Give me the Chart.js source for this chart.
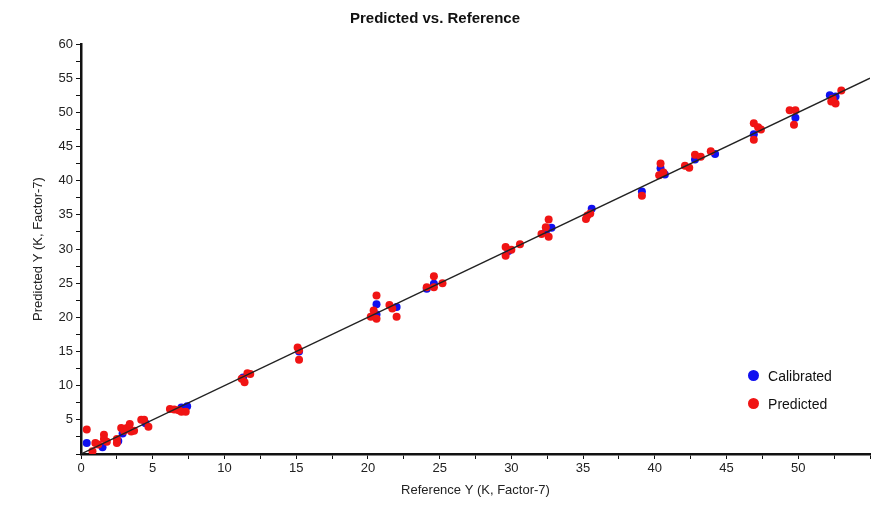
<!DOCTYPE html>
<html>
<head>
<meta charset="utf-8">
<title>Predicted vs. Reference</title>
<script src="https://cdn.jsdelivr.net/npm/chart.js@4/dist/chart.umd.min.js"></script>
<style>
  html, body { margin: 0; padding: 0; background: #fff; }
  #wrap { position: relative; width: 878px; height: 513px; }
  #legend {
    position: absolute; font-family: Arial, "Liberation Sans", sans-serif;
    font-size: 14px; color: #111; line-height: 28px;
  }
  #legend .item { display: flex; align-items: center; }
  #legend .dot { width: 11px; height: 11px; border-radius: 50%; margin-right: 9px; }
</style>
</head>
<body>
<div id="wrap">
  <canvas id="chartPvR" width="878" height="513"></canvas>
  <div id="legend"></div>
</div>
<script>
// ── Data ──
const calX = [0.4, 1.5, 2.6, 2.9, 3.4, 4.5, 7.0, 7.4, 11.3, 15.2,
  20.6, 20.6, 22.0, 24.1, 24.6, 29.8, 32.4, 32.8, 35.6, 39.1,
  40.4, 40.7, 42.8, 44.2, 46.9, 49.8, 52.2, 52.6];
const calY = [1.6, 1.0, 1.9, 3.0, 3.6, 4.5, 6.8, 7.0, 11.2, 15.0,
  21.9, 20.4, 21.5, 24.2, 24.9, 29.7, 32.5, 33.1, 35.9, 38.4,
  41.8, 40.9, 43.1, 43.9, 46.8, 49.2, 52.5, 52.3];

const predX = [0.4, 0.8, 1.0, 1.2, 1.6, 1.6, 1.8, 2.5, 2.5, 2.8, 3.0, 3.2, 3.4, 3.5, 3.7,
  4.2, 4.4, 4.7, 6.2, 6.5, 6.8, 7.0, 7.3, 11.2, 11.4, 11.6, 11.8, 15.1, 15.2, 15.2,
  20.6, 20.4, 20.2, 20.6, 21.5, 21.7, 22.0, 24.1, 24.6, 24.6, 25.2,
  29.6, 29.6, 30.0, 30.6, 32.6, 32.4, 32.1, 32.6, 35.3, 35.5, 35.2, 39.1,
  40.4, 40.3, 40.6, 42.1, 42.4, 42.8, 43.2, 43.9, 46.9, 46.9, 47.2, 47.4,
  49.4, 49.8, 49.7, 53.0, 52.3, 52.6, 52.4];
const predY = [3.6, 0.4, 1.6, 1.4, 2.8, 2.2, 1.8, 1.6, 2.2, 3.8, 3.4, 3.8, 4.4, 3.3, 3.4,
  5.0, 5.0, 4.0, 6.6, 6.5, 6.4, 6.2, 6.2, 11.0, 10.5, 11.8, 11.7, 15.6, 15.2, 13.8,
  23.2, 21.0, 20.1, 19.8, 21.8, 21.3, 20.1, 24.4, 26.0, 24.4, 25.0,
  30.3, 29.0, 29.9, 30.7, 34.3, 33.2, 32.2, 31.8, 34.9, 35.2, 34.4, 37.8,
  42.5, 40.8, 41.2, 42.2, 41.9, 43.8, 43.5, 44.3, 48.4, 46.0, 47.8, 47.5,
  50.3, 50.3, 48.2, 53.2, 51.6, 51.3, 52.0];

// target line
const lineX = [0, 55];
const lineY = [0, 55];

const xMax = 55;
const yMax = 60;

const toPts = (xs, ys) => xs.map((x, i) => ({ x: x, y: ys[i] }));

const tickFont = { family: 'Arial, "Liberation Sans", sans-serif', size: 13 };

// ── Chart ──
const chart = new Chart(document.getElementById('chartPvR'), {
  type: 'scatter',
  data: {
    datasets: [
      {
        type: 'line',
        label: 'Target',
        data: toPts(lineX, lineY),
        borderColor: '#222',
        borderWidth: 1.3,
        pointRadius: 0,
        fill: false,
        order: -1,
      },
      {
        label: 'Calibrated',
        data: toPts(calX, calY),
        backgroundColor: '#1010f0',
        borderColor: '#1010f0',
        borderWidth: 0,
        pointRadius: 4,
        order: 1,
      },
      {
        label: 'Predicted',
        data: toPts(predX, predY),
        backgroundColor: '#f01414',
        borderColor: '#f01414',
        borderWidth: 0,
        pointRadius: 4,
        order: 0,
      }
    ]
  },
  options: {
    responsive: false,
    animation: false,
    layout: { padding: { left: 0, right: 8, top: 0, bottom: 0 } },
    plugins: {
      legend: { display: false },
      tooltip: { enabled: false },
      title: {
        display: true,
        text: 'Predicted vs. Reference',
        color: '#111',
        font: { family: '"Liberation Sans Narrow", "Arial Narrow", Arial, sans-serif', size: 15, weight: 'bold' },
        padding: { top: 10, bottom: 16 }
      }
    },
    scales: {
      x: {
        type: 'linear',
        min: 0, max: xMax,
        border: { color: '#111', width: 2.5 },
        grid: { drawOnChartArea: false, drawTicks: true, tickLength: 5, color: '#111' },
        ticks: {
          stepSize: 2.5, autoSkip: false, maxRotation: 0,
          color: '#222', font: tickFont, padding: 2,
          callback: v => (v % 5 === 0 && v < xMax) ? v : ''
        },
        title: {
          display: true, text: 'Reference Y (K, Factor-7)',
          color: '#222', font: tickFont, padding: { top: 0, bottom: 15 }
        },
        afterFit: s => { s.height = 59; }
      },
      y: {
        type: 'linear',
        min: 0, max: yMax,
        border: { color: '#111', width: 2.5 },
        grid: { drawOnChartArea: false, drawTicks: true, tickLength: 5, color: '#111' },
        ticks: {
          stepSize: 2.5, autoSkip: false,
          color: '#222', font: tickFont, padding: 3,
          callback: v => (v % 5 === 0 && v > 0) ? v : ''
        },
        title: {
          display: true, text: 'Predicted Y (K, Factor-7)',
          color: '#222', font: tickFont, padding: { top: 31, bottom: 0 }
        },
        afterFit: s => { s.width = 81; }
      }
    }
  }
});

// ── HTML legend inside plot, lower right ──
function buildLegend() {
  const box = document.getElementById('legend');
  const xs = chart.scales.x, ys = chart.scales.y;
  box.style.left = xs.getPixelForValue(46.5) + 'px';
  box.style.top = (ys.getPixelForValue(12.2) - 9) + 'px';
  chart.data.datasets.slice(1).forEach(d => {
    const item = document.createElement('div');
    item.className = 'item';
    item.innerHTML = `<span class="dot" style="background:${d.backgroundColor};"></span><span>${d.label}</span>`;
    box.appendChild(item);
  });
}
buildLegend();
</script>
</body>
</html>
